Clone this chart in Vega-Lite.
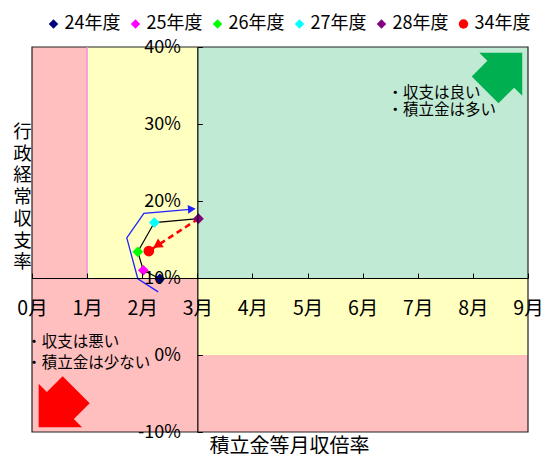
{
  "$schema": "https://vega.github.io/schema/vega-lite/v6.json",
  "width": 496,
  "height": 385,
  "autosize": "none",
  "padding": {"left": 32, "top": 47, "right": 14, "bottom": 22},
  "background": "#ffffff",
  "config": {
    "font": "Noto Sans CJK JP",
    "view": {"stroke": null},
    "axis": {
      "labelFont": "Noto Sans CJK JP",
      "titleFont": "Noto Sans CJK JP",
      "labelColor": "#000000",
      "titleColor": "#000000",
      "domainColor": "#000000",
      "tickColor": "#000000",
      "titleFontWeight": "normal",
      "labelFlush": false,
      "grid": false
    }
  },
  "datasets": {
    "zones": [
      {"x0": 0, "x1": 1, "y0": 10, "y1": 40, "zone": "bad"},
      {"x0": 1, "x1": 3, "y0": 10, "y1": 40, "zone": "mid"},
      {"x0": 3, "x1": 9, "y0": 10, "y1": 40, "zone": "good"},
      {"x0": 0, "x1": 3, "y0": -10, "y1": 10, "zone": "bad"},
      {"x0": 3, "x1": 9, "y0": 0, "y1": 10, "zone": "mid"},
      {"x0": 3, "x1": 9, "y0": -10, "y1": 0, "zone": "bad"}
    ],
    "years": [
      {"year": "24年度", "x": 2.32, "y": 9.9, "seq": 1},
      {"year": "25年度", "x": 2.02, "y": 11.0, "seq": 2},
      {"year": "26年度", "x": 1.92, "y": 13.4, "seq": 3},
      {"year": "27年度", "x": 2.22, "y": 17.2, "seq": 4},
      {"year": "28年度", "x": 3.02, "y": 17.7, "seq": 5},
      {"year": "34年度", "x": 2.12, "y": 13.5, "seq": 6}
    ],
    "trend": [
      {"x": 2.29, "y": 8.2, "i": 1},
      {"x": 1.92, "y": 9.9, "i": 2},
      {"x": 1.72, "y": 15.2, "i": 3},
      {"x": 2.03, "y": 18.4, "i": 4},
      {"x": 2.92, "y": 18.95, "i": 5}
    ],
    "notes": [
      {"x": 6.45, "y": 34.09, "text": "・収支は良い"},
      {"x": 6.45, "y": 31.82, "text": "・積立金は多い"},
      {"x": -0.105, "y": 1.65, "text": "・収支は悪い"},
      {"x": -0.105, "y": -1.08, "text": "・積立金は少ない"}
    ]
  },
  "layer": [
    {
      "data": {"name": "zones"},
      "mark": {"type": "rect"},
      "encoding": {
        "x": {
          "field": "x0", "type": "quantitative",
          "scale": {"domain": [0, 9], "nice": false, "zero": false},
          "axis": {
            "orient": "bottom",
            "offset": -154,
            "values": [0, 1, 2, 3, 4, 5, 6, 7, 8, 9],
            "labelExpr": "datum.value + '月'",
            "labelFontSize": 19.5,
            "labelPadding": 26,
            "labelOverlap": false,
            "tickSize": -5,
            "domainWidth": 1.2,
            "zindex": 1,
            "title": "積立金等月収倍率",
            "titleFontSize": 20,
            "titleX": 257,
            "titleY": 168,
            "titleAlign": "center",
            "titleBaseline": "middle"
          }
        },
        "x2": {"field": "x1"},
        "y": {
          "field": "y0", "type": "quantitative",
          "scale": {"domain": [-10, 40], "nice": false, "zero": false},
          "axis": {
            "orient": "left",
            "offset": -165.33,
            "values": [-10, 0, 10, 20, 30, 40],
            "labelExpr": "datum.value + '%'",
            "labelFontSize": 18,
            "labelPadding": 22,
            "labelOverlap": false,
            "tickSize": -5,
            "domainWidth": 1.2,
            "zindex": 1,
            "title": ["行", "政", "経", "常", "収", "支", "率"],
            "titleAngle": 0,
            "titleFontSize": 18.5,
            "titleLineHeight": 21.7,
            "titleX": -175.3,
            "titleY": 84.5,
            "titleAlign": "center",
            "titleBaseline": "middle"
          }
        },
        "y2": {"field": "y1"},
        "fill": {
          "field": "zone", "type": "nominal",
          "scale": {"domain": ["bad", "mid", "good"], "range": ["#FFBFBF", "#FFFFC0", "#C0EAD4"]},
          "legend": null
        }
      }
    },
    {
      "data": {"values": [{"x0": 0, "x1": 9, "y0": -10, "y1": 40}]},
      "mark": {"type": "rect", "fill": null, "stroke": "#222222", "strokeWidth": 1.2},
      "encoding": {
        "x": {"field": "x0", "type": "quantitative"},
        "x2": {"field": "x1"},
        "y": {"field": "y0", "type": "quantitative"},
        "y2": {"field": "y1"}
      }
    },
    {
      "data": {"values": [{"x": 1, "y0": 10, "y1": 40}]},
      "mark": {"type": "rule", "color": "#F088F0", "strokeWidth": 1.3},
      "encoding": {
        "x": {"field": "x", "type": "quantitative"},
        "y": {"field": "y0", "type": "quantitative"},
        "y2": {"field": "y1"}
      }
    },
    {
      "data": {"name": "trend"},
      "mark": {"type": "line", "color": "#2222FF", "strokeWidth": 1.3},
      "encoding": {
        "x": {"field": "x", "type": "quantitative"},
        "y": {"field": "y", "type": "quantitative"},
        "order": {"field": "i", "type": "quantitative"}
      }
    },
    {
      "data": {"values": [{"x": 2.9, "y": 18.95}]},
      "mark": {"type": "point", "shape": "triangle-right", "filled": true, "color": "#2222FF", "size": 80, "angle": -4, "opacity": 1},
      "encoding": {
        "x": {"field": "x", "type": "quantitative"},
        "y": {"field": "y", "type": "quantitative"}
      }
    },
    {
      "data": {"name": "years"},
      "transform": [{"filter": "datum.seq <= 5"}],
      "mark": {"type": "line", "color": "#000000", "strokeWidth": 1.2},
      "encoding": {
        "x": {"field": "x", "type": "quantitative"},
        "y": {"field": "y", "type": "quantitative"},
        "order": {"field": "seq", "type": "quantitative"}
      }
    },
    {
      "data": {"name": "years"},
      "transform": [{"filter": "datum.seq >= 5"}],
      "mark": {"type": "line", "color": "#FF0000", "strokeWidth": 2.5, "strokeDash": [6, 4]},
      "encoding": {
        "x": {"field": "x", "type": "quantitative"},
        "y": {"field": "y", "type": "quantitative"},
        "order": {"field": "seq", "type": "quantitative"}
      }
    },
    {
      "data": {"values": [{"x": 2.27, "y": 14.25}]},
      "mark": {"type": "point", "shape": "triangle-right", "filled": true, "color": "#FF0000", "size": 110, "angle": 147, "opacity": 1},
      "encoding": {
        "x": {"field": "x", "type": "quantitative"},
        "y": {"field": "y", "type": "quantitative"}
      }
    },
    {
      "data": {"name": "years"},
      "mark": {"type": "point", "filled": true, "opacity": 1, "size": 115},
      "encoding": {
        "x": {"field": "x", "type": "quantitative"},
        "y": {"field": "y", "type": "quantitative"},
        "color": {
          "field": "year", "type": "nominal",
          "scale": {
            "domain": ["24年度", "25年度", "26年度", "27年度", "28年度", "34年度"],
            "range": ["#000080", "#FF00FF", "#00FF00", "#00FFFF", "#800080", "#FF0000"]
          },
          "legend": {
            "orient": "none", "legendX": 12.5, "legendY": -32, "direction": "horizontal",
            "title": null, "labelFontSize": 18, "labelFont": "Noto Sans CJK JP", "labelColor": "#000000",
            "symbolSize": 90, "labelOffset": 2, "columnPadding": 6, "symbolStrokeWidth": 0, "padding": 0
          }
        },
        "shape": {
          "field": "year", "type": "nominal",
          "scale": {
            "domain": ["24年度", "25年度", "26年度", "27年度", "28年度", "34年度"],
            "range": ["diamond", "diamond", "diamond", "diamond", "diamond", "circle"]
          },
          "legend": {
            "orient": "none", "legendX": 12.5, "legendY": -32, "direction": "horizontal",
            "title": null, "labelFontSize": 18, "labelFont": "Noto Sans CJK JP", "labelColor": "#000000",
            "symbolSize": 90, "labelOffset": 2, "columnPadding": 6, "symbolStrokeWidth": 0, "padding": 0
          }
        }
      }
    },
    {
      "data": {"values": [{"x": 8.437, "y": 35.97}]},
      "mark": {"type": "point", "filled": true, "opacity": 1, "color": "#00B050", "size": 2550,
        "shape": "M1,-1 L1,0.7 L0.68,0.38 L0.06,1 L-1,-0.06 L-0.38,-0.68 L-0.7,-1 Z"},
      "encoding": {
        "x": {"field": "x", "type": "quantitative"},
        "y": {"field": "y", "type": "quantitative"}
      }
    },
    {
      "data": {"values": [{"x": 0.584, "y": -6.06}]},
      "mark": {"type": "point", "filled": true, "opacity": 1, "color": "#FF0000", "size": 2600,
        "shape": "M-1,1 L-1,-0.7 L-0.68,-0.38 L-0.06,-1 L1,0.06 L0.38,0.68 L0.7,1 Z"},
      "encoding": {
        "x": {"field": "x", "type": "quantitative"},
        "y": {"field": "y", "type": "quantitative"}
      }
    },
    {
      "data": {"name": "notes"},
      "mark": {"type": "text", "align": "left", "baseline": "middle", "fontSize": 15.5, "color": "#000000", "font": "Noto Sans CJK JP"},
      "encoding": {
        "x": {"field": "x", "type": "quantitative"},
        "y": {"field": "y", "type": "quantitative"},
        "text": {"field": "text"}
      }
    }
  ]
}
